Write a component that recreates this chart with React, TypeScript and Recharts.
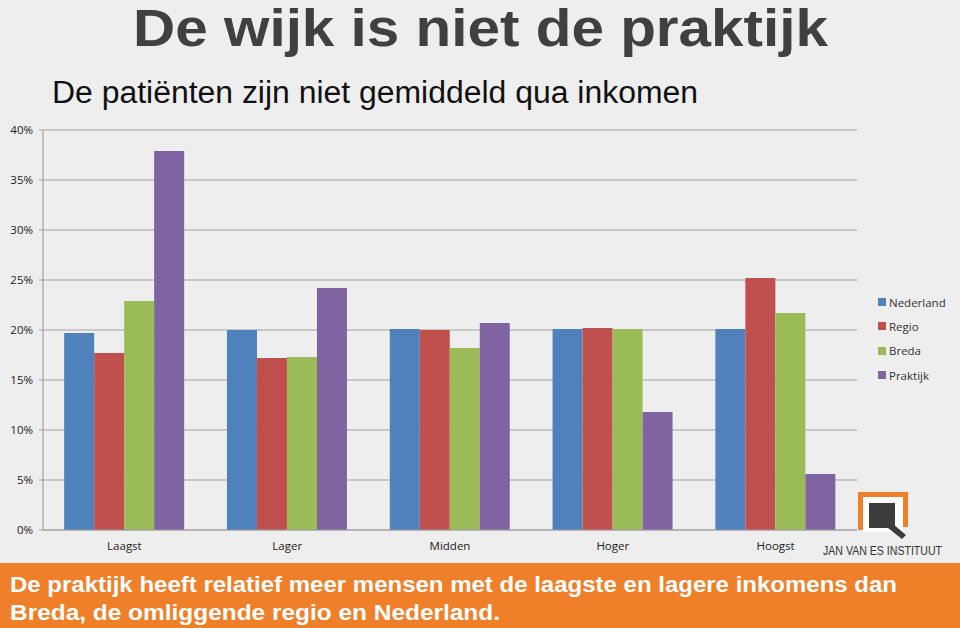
import { BarChart, Bar, XAxis, YAxis, CartesianGrid } from "recharts"

const categories = ["Laagst", "Lager", "Midden", "Hoger", "Hoogst"]
const nederland = [19.7, 20.0, 20.1, 20.1, 20.1]
const regio = [17.7, 17.2, 20.0, 20.2, 25.2]
const breda = [22.9, 17.3, 18.2, 20.1, 21.7]
const praktijk = [37.9, 24.2, 20.7, 11.8, 5.6]
const yTicks = [0, 5, 10, 15, 20, 25, 30, 35, 40]

const seriesNames = ["Nederland", "Regio", "Breda", "Praktijk"]
const COLORS = ["#4F81BD", "#C0504D", "#9BBB59", "#8064A2"]

const data = categories.map((c, i) => ({
  name: c,
  Nederland: nederland[i],
  Regio: regio[i],
  Breda: breda[i],
  Praktijk: praktijk[i],
}))

const LABEL_FONT = "'Open Sans', 'Liberation Sans', sans-serif"
const GRID = "#a2a2a2"

// legend sits outside the chart so it doesn't eat plot width
function LegendBox() {
  return (
    <div style={{ position: "absolute", left: 878, top: 290, fontFamily: LABEL_FONT, fontSize: 11.5, color: "#333" }}>
      {seriesNames.map((n, i) => (
        <div key={n} style={{ display: "flex", alignItems: "center", height: 24.3 }}>
          <span style={{ width: 8, height: 8, background: COLORS[i], marginRight: 3, display: "inline-block" }} />
          {n}
        </div>
      ))}
    </div>
  )
}

export default function App() {
  return (
    <div style={{ position: "absolute", left: 0, top: 0, width: 960, height: 628, background: "#eeeeee", overflow: "hidden" }}>
      <BarChart
        width={960}
        height={628}
        data={data}
        margin={{ top: 130, right: 103, bottom: 68, left: 3 }}
        barCategoryGap="13%"
        barGap={0}
      >
        <CartesianGrid vertical={false} stroke={GRID} strokeWidth={1.2} />
        <XAxis
          dataKey="name"
          tick={{ fill: "#222", fontSize: 11.5, fontFamily: LABEL_FONT }}
          axisLine={{ stroke: GRID, strokeWidth: 1.2 }}
          tickLine={false}
          tickMargin={6}
          height={30}
        />
        <YAxis
          width={40}
          domain={[0, 40]}
          ticks={yTicks}
          interval={0}
          tickFormatter={(v: number) => `${v}%`}
          tick={{ fill: "#222", fontSize: 11.5, fontFamily: LABEL_FONT }}
          axisLine={{ stroke: GRID, strokeWidth: 1.2 }}
          tickLine={{ stroke: GRID }}
          tickSize={4}
          tickMargin={6}
        />
        {seriesNames.map((s, i) => (
          <Bar key={s} dataKey={s} fill={COLORS[i]} isAnimationActive={false} />
        ))}
      </BarChart>

      <LegendBox />

      <svg width={960} height={628} style={{ position: "absolute", left: 0, top: 0, pointerEvents: "none" }}>
        {/* titles */}
        <text x={133} y={46} textLength={695} lengthAdjust="spacingAndGlyphs"
          fontFamily="'Liberation Sans Narrow', 'Liberation Sans', Arial, sans-serif"
          fontWeight="bold" fontSize={51} fill="#404040">
          De wijk is niet de praktijk
        </text>
        <text x={52} y={103} textLength={646} lengthAdjust="spacingAndGlyphs"
          fontFamily="'Liberation Sans Narrow', 'Liberation Sans', Arial, sans-serif"
          fontSize={31} fill="#111">
          De patiënten zijn niet gemiddeld qua inkomen
        </text>

        {/* logo */}
        <path d="M860.5 530 V494.5 H905.5 V527" fill="none" stroke="#F07F2A" strokeWidth={5} />
        <rect x={863} y={497} width={40} height={35} fill="#ffffff" />
        <rect x={869} y={503} width={26} height={25} fill="#3c3c3c" />
        <path d="M893 524 L906 535 L902 539 L888 528 Z" fill="#3c3c3c" />
        <text x={823} y={555} textLength={119} lengthAdjust="spacingAndGlyphs"
          fontFamily="'Liberation Sans Narrow', 'Liberation Sans', sans-serif" fontSize={12} fill="#333">
          JAN VAN ES INSTITUUT
        </text>

        {/* bottom banner */}
        <rect x={0} y={563} width={960} height={65} fill="#F07F2A" />
        <text x={10} y={592} textLength={887} lengthAdjust="spacingAndGlyphs"
          fontFamily="'Liberation Sans', Arial, sans-serif" fontWeight="bold" fontSize={22} fill="#ffffff">
          De praktijk heeft relatief meer mensen met de laagste en lagere inkomens dan
        </text>
        <text x={10} y={620} textLength={490} lengthAdjust="spacingAndGlyphs"
          fontFamily="'Liberation Sans', Arial, sans-serif" fontWeight="bold" fontSize={22} fill="#ffffff">
          Breda, de omliggende regio en Nederland.
        </text>
      </svg>
    </div>
  )
}
